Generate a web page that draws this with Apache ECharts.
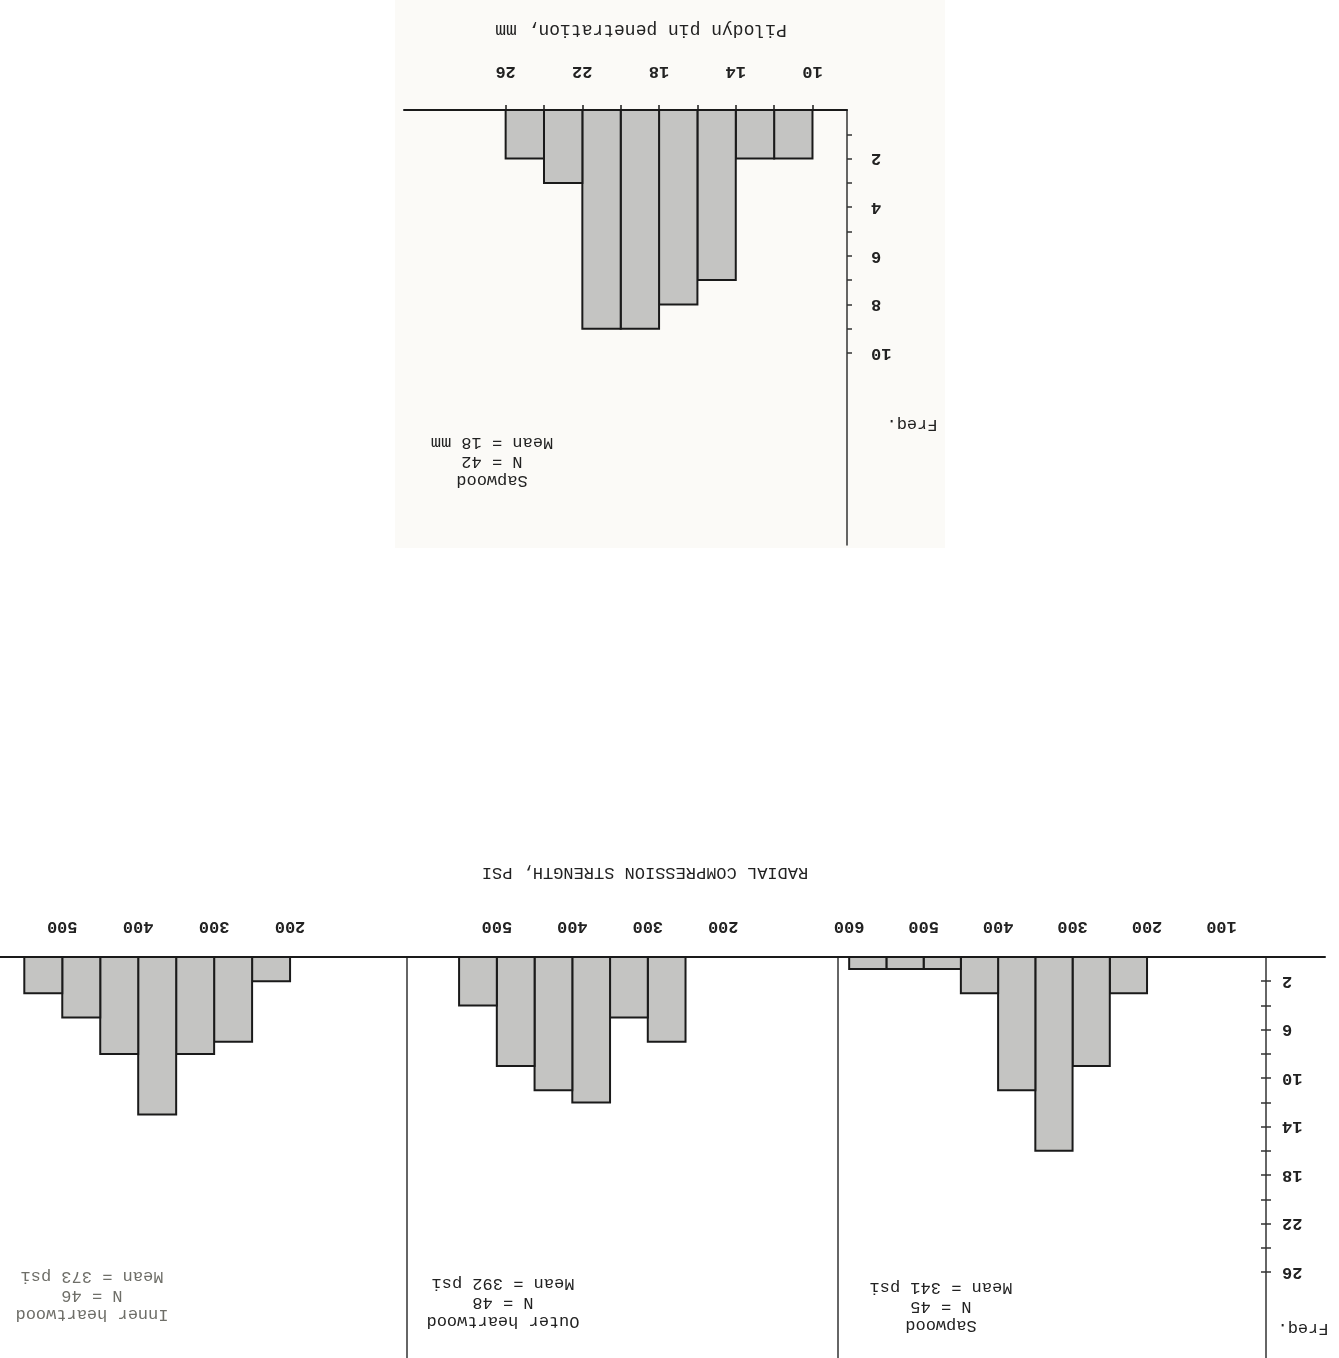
<!DOCTYPE html>
<html><head><meta charset="utf-8">
<script src="https://cdn.jsdelivr.net/npm/echarts@6/dist/echarts.min.js"></script>
<style>html,body{margin:0;padding:0;background:#fff}#c{width:1339px;height:1358px}</style>
</head><body><div id="c"></div>
<script>
// ---- Data (chart is printed upside down, as in the scanned reference) ----
// Pilodyn pin penetration (mm), bins of 2 mm
const pilodynLower = [10, 12, 14, 16, 18, 20, 22, 24];
const pilodynFreq  = [2, 2, 7, 8, 9, 9, 3, 2];
const pilodynBinW  = 2;
const pilodynTickLabels = [10, 14, 18, 22, 26];
const pilodynBinEdges   = [10, 12, 14, 16, 18, 20, 22, 24, 26];
const pilodynFreqLabels = [2, 4, 6, 8, 10];
const pilodynFreqTicks  = [1, 2, 3, 4, 5, 6, 7, 8, 9, 10];

// Radial compression strength (psi), bins of 50 psi
const compBinW = 50;
const sapLower   = [200, 250, 300, 350, 400, 450, 500, 550];
const sapFreq    = [3, 9, 16, 11, 3, 1, 1, 1];
const outerLower = [250, 300, 350, 400, 450, 500];
const outerFreq  = [7, 5, 12, 11, 9, 4];
const innerLower = [200, 250, 300, 350, 400, 450, 500];
const innerFreq  = [2, 7, 8, 13, 8, 5, 3];
const sapTickLabels   = [100, 200, 300, 400, 500, 600];
const outerTickLabels = [200, 300, 400, 500];
const innerTickLabels = [200, 300, 400, 500];
const compFreqLabels  = [2, 6, 10, 14, 18, 22, 26];
const compFreqTicks   = [2, 4, 6, 8, 10, 12, 14, 16, 18, 20, 22, 24, 26];

const sapNote   = 'Sapwood\nN = 45\nMean = 341 psi';
const outerNote = 'Outer heartwood\nN = 48\nMean = 392 psi';
const innerNote = 'Inner heartwood\nN = 46\nMean = 373 psi';
const pilNote   = 'Sapwood\nN = 42\nMean = 18 mm';

// ---- helpers ----
const FONT = '"Liberation Mono", "DejaVu Sans Mono", monospace';
const INK = '#222222';
function bins(lower, freq, w) { return lower.map((l, i) => [l, l + w, freq[i]]); }
function histRender(params, api) {
  const p0 = api.coord([api.value(0), 0]);
  const p1 = api.coord([api.value(1), api.value(2)]);
  return {
    type: 'rect',
    shape: { x: Math.min(p0[0], p1[0]), y: Math.min(p0[1], p1[1]),
             width: Math.abs(p1[0] - p0[0]), height: Math.abs(p1[1] - p0[1]) },
    style: { fill: '#c4c4c2', stroke: '#1a1a1a', lineWidth: 2 }
  };
}
function histSeries(data, idx) {
  return { type: 'custom', xAxisIndex: idx, yAxisIndex: idx, renderItem: histRender,
           encode: { x: [0, 1], y: 2 }, data: data, clip: false, silent: true };
}
function xAxisCfg(idx, min, max, labels, ticks, margin) {
  return {
    type: 'value', gridIndex: idx, position: 'top', inverse: true, min: min, max: max,
    axisLine: { show: true, onZero: false, lineStyle: { color: '#1a1a1a', width: 2 } },
    axisTick: ticks ? { show: true, customValues: ticks, length: 5, lineStyle: { color: '#1a1a1a', width: 1.5 } } : { show: false },
    axisLabel: { customValues: labels, rotate: 180, margin: margin, fontFamily: FONT, fontSize: 17, color: INK, fontWeight: 'bold' },
    splitLine: { show: false }
  };
}
function sepAxis(idx) {
  return { type: 'value', gridIndex: idx, position: 'right', inverse: true, min: 0, max: 33.1,
    axisLine: { show: true, lineStyle: { color: '#333', width: 1.5 } },
    axisTick: { show: false }, axisLabel: { show: false }, splitLine: { show: false } };
}
function rotText(x, y, text, size, color, lh) {
  return { type: 'text', x: x, y: y, rotation: Math.PI, z: 10,
    style: { text: text, fontFamily: FONT, fontSize: size, fill: color || INK,
             align: 'center', verticalAlign: 'middle', lineHeight: lh || 19 } };
}

const chart = echarts.init(document.getElementById('c'), null, { renderer: 'canvas' });
chart.setOption({
  backgroundColor: '#ffffff',
  animation: false,
  grid: [
    { left: 404, top: 110, width: 443, height: 435 },
    { left: 0,   top: 957, width: 407, height: 401 },
    { left: 407, top: 957, width: 431, height: 401 },
    { left: 838, top: 957, width: 487, height: 401 }
  ],
  xAxis: [
    xAxisCfg(0, 8.2, 31.3, pilodynTickLabels, pilodynBinEdges, 30),
    xAxisCfg(1, 46, 582, innerTickLabels, null, 22),
    xAxisCfg(2, 48, 619, outerTickLabels, null, 22),
    xAxisCfg(3, -39, 615, sapTickLabels, null, 22)
  ],
  yAxis: [
    { type: 'value', gridIndex: 0, position: 'right', inverse: true, min: 0, max: 17.9,
      axisLine: { show: true, lineStyle: { color: '#333', width: 1.5 } },
      axisTick: { show: true, customValues: pilodynFreqTicks, length: 5, lineStyle: { color: '#333', width: 1.5 } },
      axisLabel: { customValues: pilodynFreqLabels, rotate: 180, margin: 24, fontFamily: FONT, fontSize: 17, color: INK, fontWeight: 'bold' },
      splitLine: { show: false } },
    sepAxis(1),
    sepAxis(2),
    { type: 'value', gridIndex: 3, position: 'right', offset: -59, inverse: true, min: 0, max: 33.1,
      axisLine: { show: true, lineStyle: { color: '#333', width: 1.5 } },
      axisTick: { show: true, customValues: compFreqTicks, length: 5, lineStyle: { color: '#333', width: 1.5 } },
      axisLabel: { customValues: compFreqLabels, rotate: 180, margin: 16, fontFamily: FONT, fontSize: 17, color: INK, fontWeight: 'bold' },
      splitLine: { show: false } },
    { type: 'value', gridIndex: 3, position: 'right', offset: -59, inverse: true, min: 0, max: 33.1,
      axisLine: { show: false },
      axisTick: { show: true, inside: true, customValues: compFreqTicks, length: 5, lineStyle: { color: '#333', width: 1.5 } },
      axisLabel: { show: false }, splitLine: { show: false } }
  ],
  series: [
    histSeries(bins(pilodynLower, pilodynFreq, pilodynBinW), 0),
    histSeries(bins(innerLower, innerFreq, compBinW), 1),
    histSeries(bins(outerLower, outerFreq, compBinW), 2),
    histSeries(bins(sapLower, sapFreq, compBinW), 3)
  ],
  graphic: [
    { type: 'rect', z: -10, shape: { x: 395, y: 0, width: 550, height: 548 }, style: { fill: '#fbfaf7' } },
    rotText(641, 30, 'Pilodyn pin penetration, mm', 18),
    rotText(912, 424, 'Freq.', 17),
    rotText(492, 461, pilNote, 17, INK, 19),
    rotText(645, 872, 'RADIAL COMPRESSION STRENGTH, PSI', 17),
    rotText(1303, 1328, 'Freq.', 17),
    rotText(941, 1306, sapNote, 17, INK, 19),
    rotText(503, 1302, outerNote, 17, INK, 19),
    rotText(92, 1295, innerNote, 17, '#6e6e68', 19)
  ]
});
</script>
</body></html>
